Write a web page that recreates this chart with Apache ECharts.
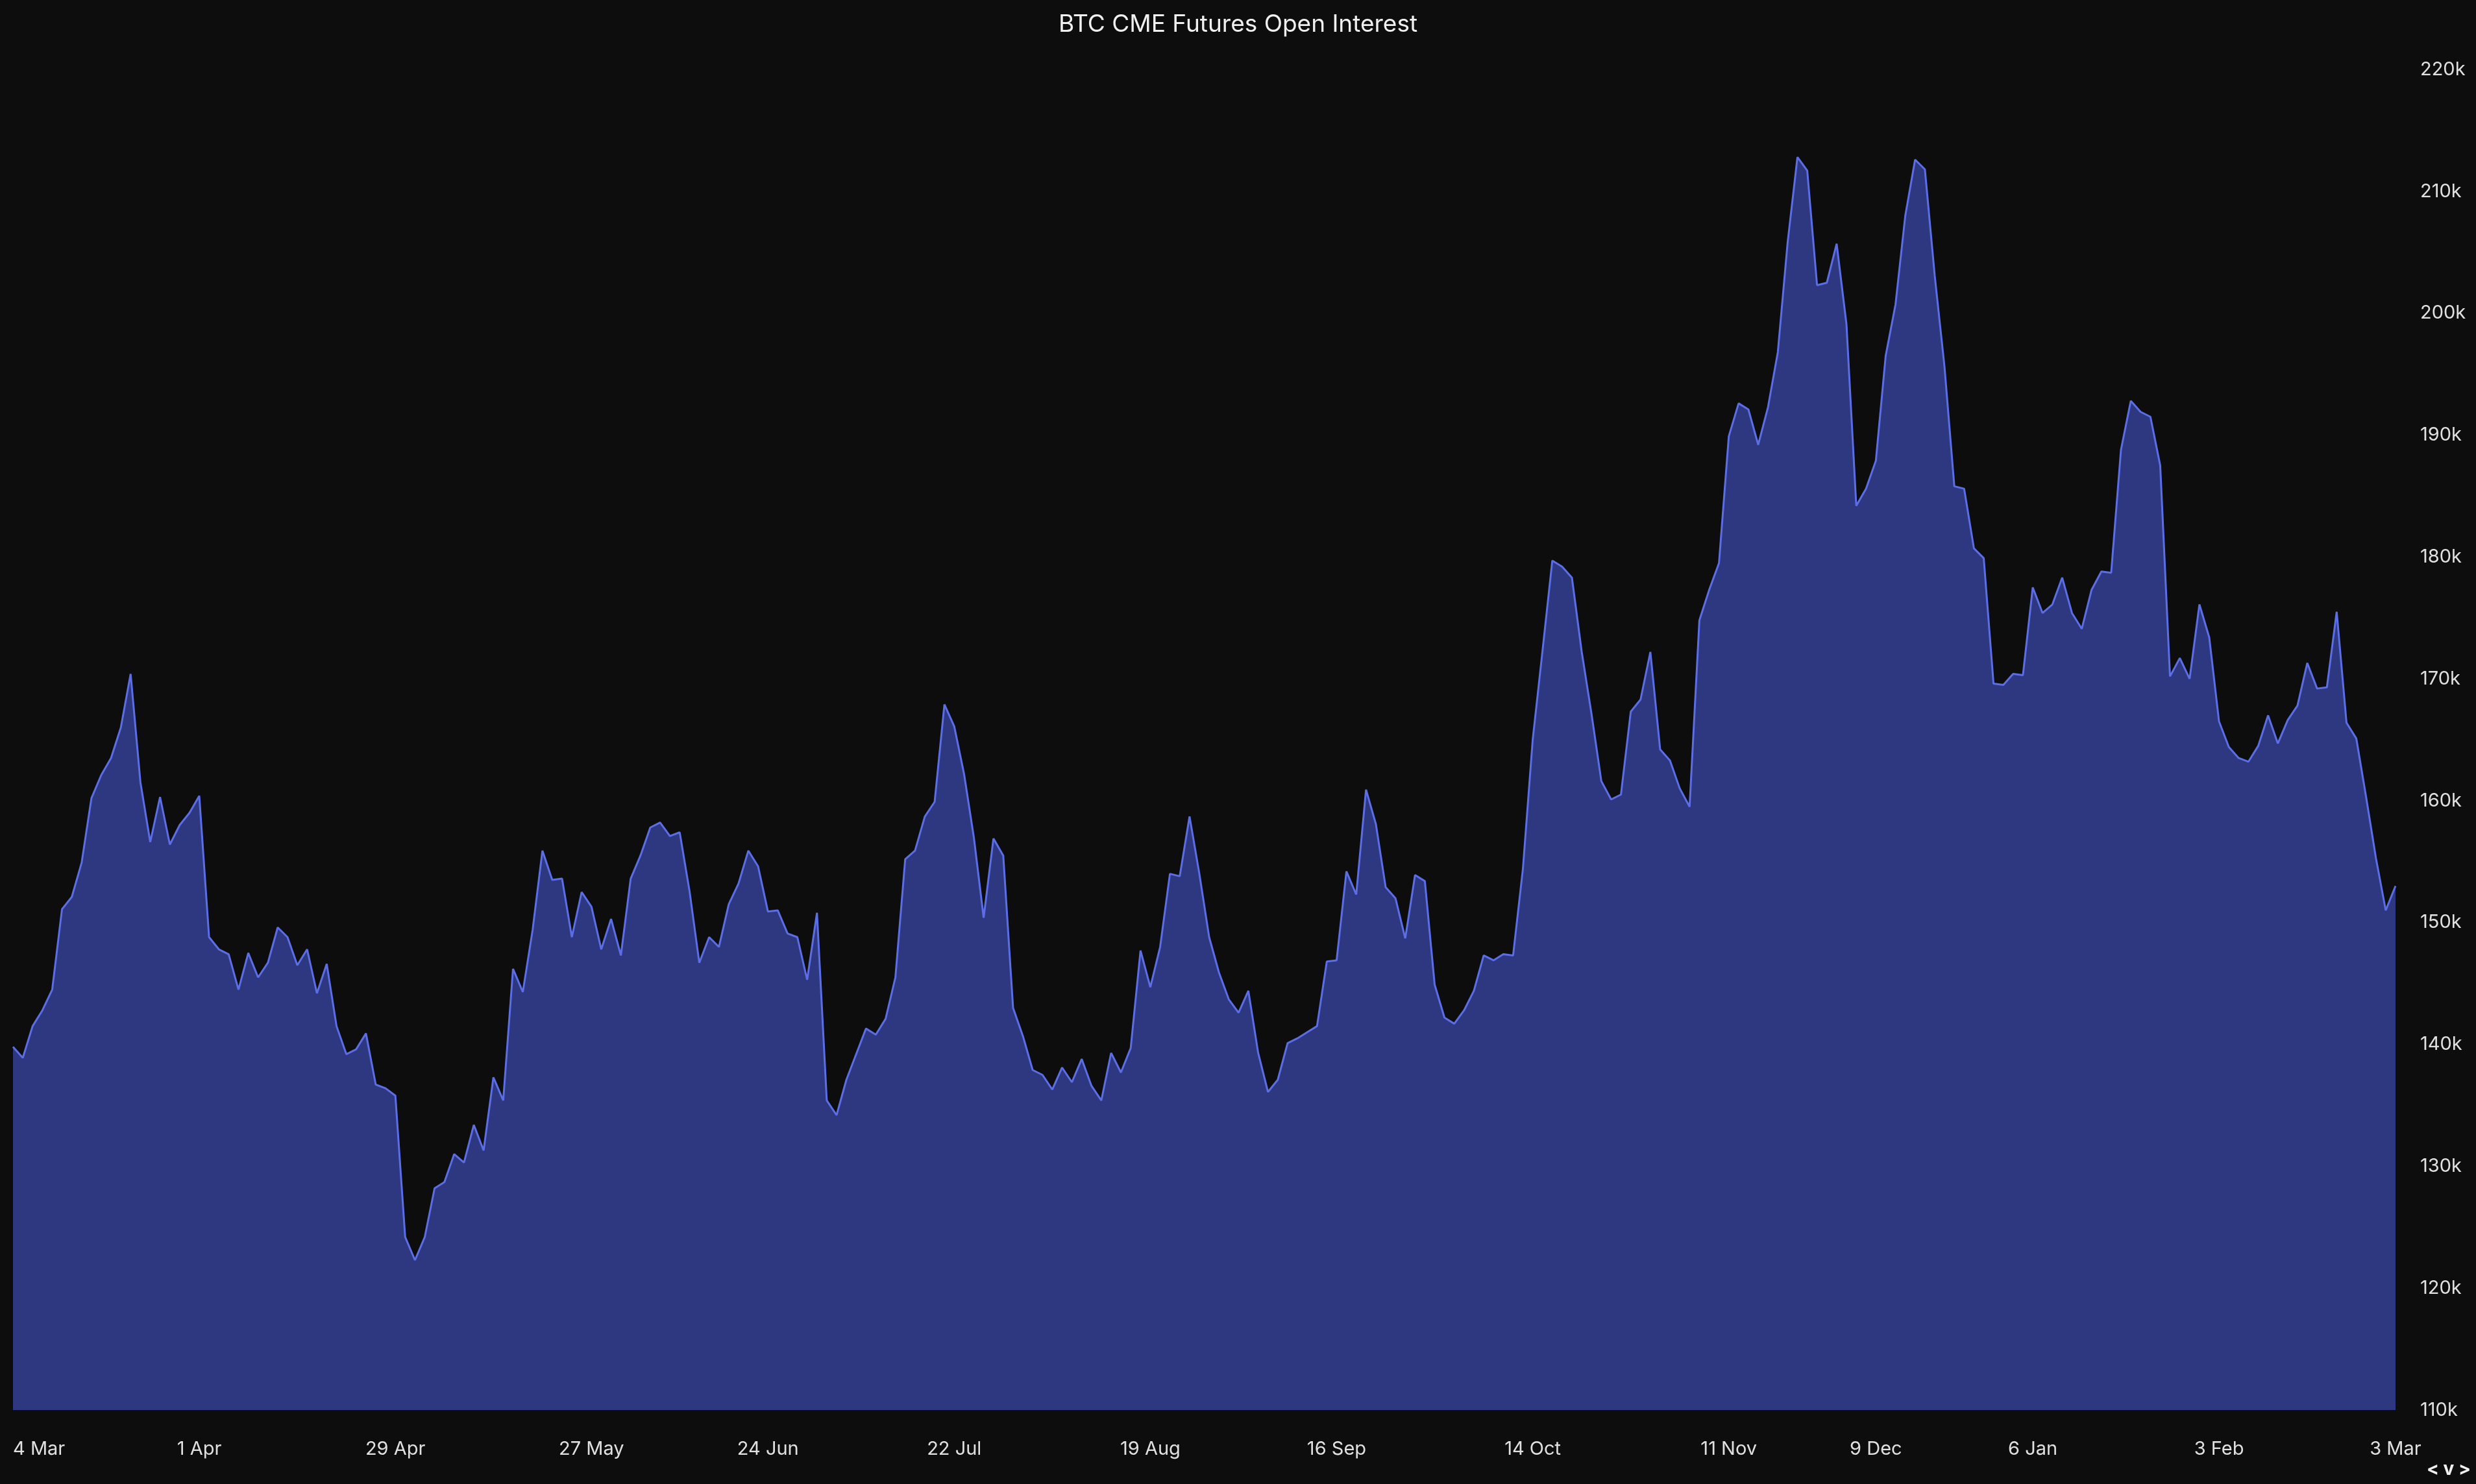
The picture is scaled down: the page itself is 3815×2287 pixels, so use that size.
<!DOCTYPE html>
<html><head><meta charset="utf-8">
<script src="https://cdn.jsdelivr.net/npm/echarts@6/dist/echarts.min.js"></script>
<style>html,body{margin:0;padding:0;background:#0d0d0e}#c{width:3815px;height:2287px}</style>
</head><body><div id="c"></div>
<script>
const openInterestK = [
139.8,138.9,141.5,142.8,144.5,151.1,152.1,154.9,160.2,162.1,163.5,166.0,170.4,161.5,156.6,160.3,156.4,158.0,159.0,160.4,148.8,147.8,147.4,144.5,147.5,145.5,146.7,149.6,148.8,146.5,147.8,144.2,146.6,141.5,139.2,139.6,140.9,136.7,136.4,135.8,124.2,122.3,
124.2,128.2,128.7,131.0,130.3,133.4,131.3,137.3,135.4,146.2,144.3,149.4,155.9,153.5,153.6,148.8,152.5,151.3,147.8,150.3,147.3,153.6,155.5,157.8,158.2,157.1,157.4,152.6,146.7,148.8,148.0,151.5,153.2,155.9,154.6,150.9,151.0,149.1,148.8,145.3,
150.8,135.4,134.2,137.1,139.2,141.3,140.8,142.1,145.5,155.2,155.9,158.7,159.9,167.9,166.1,162.2,157.0,150.4,156.9,155.5,143.0,140.7,137.9,137.5,136.3,138.1,136.9,138.8,136.6,135.4,139.3,137.7,139.7,147.7,144.7,148.0,154.0,153.8,158.7,
154.0,148.8,145.9,143.7,142.6,144.4,139.3,136.1,137.1,140.1,140.5,141.0,141.5,146.8,146.9,154.2,152.3,160.9,158.1,152.9,152.0,148.7,153.9,153.4,144.9,142.2,141.7,142.8,144.4,147.3,146.9,147.4,147.3,154.4,165.0,172.3,179.7,179.2,178.3,172.2,
167.1,161.6,160.1,160.5,167.3,168.3,172.2,164.2,163.3,161.0,159.5,174.8,177.3,179.5,189.9,192.6,192.1,189.2,192.3,196.8,205.8,212.8,211.7,202.3,202.5,205.7,199.1,184.2,185.6,187.9,196.5,200.7,208.0,212.6,211.8,203.1,195.6,185.8,185.6,180.7,
179.9,169.6,169.5,170.4,170.3,177.5,175.4,176.1,178.3,175.4,174.1,177.3,178.8,178.7,188.8,192.8,191.9,191.5,187.5,170.2,171.7,170.0,176.1,173.4,166.5,164.4,163.5,163.2,164.5,167.0,164.7,166.6,167.8,171.3,169.2,169.3,175.5,166.4,165.1,160.3,155.3,151.0,153.0
];
const tickLabels = ['4 Mar','1 Apr','29 Apr','27 May','24 Jun','22 Jul','19 Aug','16 Sep','14 Oct','11 Nov','9 Dec','6 Jan','3 Feb','3 Mar'];
const tickIndex = [0,19,39,59,77,96,116,135,155,175,190,206,225,243];

const values = openInterestK.map(v => Math.round(v * 1000));
const categories = values.map((_, i) => { const k = tickIndex.indexOf(i); return k >= 0 ? tickLabels[k] : ''; });
const ff = 'Inter, Lato, sans-serif';
const chart = echarts.init(document.getElementById('c'));
chart.setOption({
  backgroundColor: '#0d0d0e',
  animation: false,
  title: { text: 'BTC CME Futures Open Interest', left: 'center', top: 14,
    textStyle: { color: '#f0f0f0', fontSize: 37, fontWeight: 'normal', fontFamily: ff } },
  grid: { left: 20, right: 124, top: 107, bottom: 114 },
  xAxis: { type: 'category', data: categories, boundaryGap: false,
    axisLine: { show: false }, axisTick: { show: false }, splitLine: { show: false },
    axisLabel: { color: '#e0e0e0', fontSize: 29, fontFamily: ff, margin: 46,
      interval: (i) => tickIndex.indexOf(i) >= 0, alignMinLabel: 'left', alignMaxLabel: 'center', showMaxLabel: true, showMinLabel: true } },
  yAxis: { type: 'value', position: 'right', min: 110000, max: 220000, interval: 10000,
    axisLine: { show: false }, axisTick: { show: false }, splitLine: { show: false },
    axisLabel: { color: '#e0e0e0', fontSize: 29, fontFamily: ff, margin: 38,
      formatter: v => (v / 1000) + 'k' } },
  series: [{ type: 'line', data: values, symbol: 'none',
    lineStyle: { color: '#5b6ee6', width: 3 },
    areaStyle: { color: '#2e3880', opacity: 1 } }],
  graphic: [{ type: 'text', right: 8, bottom: 8,
    style: { text: '< v >', fill: '#f0f0f0', font: 'bold 28px ' + ff } }]
});
</script></body></html>
